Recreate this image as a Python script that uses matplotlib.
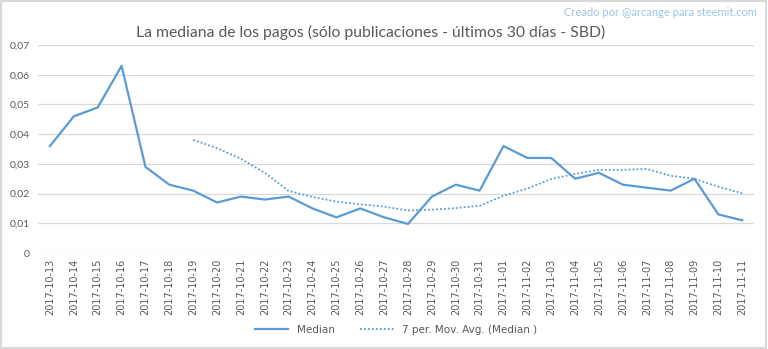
import matplotlib
matplotlib.use("Agg")
import matplotlib.pyplot as plt
from matplotlib.ticker import FuncFormatter

plt.rcParams['font.family'] = ['Lato', 'DejaVu Sans']

dates = ["2017-10-13", "2017-10-14", "2017-10-15", "2017-10-16", "2017-10-17",
         "2017-10-18", "2017-10-19", "2017-10-20", "2017-10-21", "2017-10-22",
         "2017-10-23", "2017-10-24", "2017-10-25", "2017-10-26", "2017-10-27",
         "2017-10-28", "2017-10-29", "2017-10-30", "2017-10-31", "2017-11-01",
         "2017-11-02", "2017-11-03", "2017-11-04", "2017-11-05", "2017-11-06",
         "2017-11-07", "2017-11-08", "2017-11-09", "2017-11-10", "2017-11-11"]

median = [0.036, 0.046, 0.049, 0.063, 0.029, 0.023, 0.021, 0.017, 0.019, 0.018,
          0.019, 0.015, 0.012, 0.015, 0.012, 0.0098, 0.019, 0.023, 0.021, 0.036,
          0.032, 0.032, 0.025, 0.027, 0.023, 0.022, 0.021, 0.025, 0.013, 0.011]

# moving average starts at 2017-10-19
mov_avg = [0.0381, 0.0353, 0.0317, 0.0270, 0.0209, 0.0189, 0.0173, 0.0164,
           0.0156, 0.0143, 0.0146, 0.0151, 0.0159, 0.0193, 0.0217, 0.0249,
           0.0266, 0.0280, 0.0280, 0.0283, 0.0260, 0.0250, 0.0223, 0.0201]

blue = "#5B9BD5"
gray = "#595959"

fig = plt.figure(figsize=(7.68, 3.49), dpi=100)
ax = fig.add_axes([0.0495, 0.275, 0.9325, 0.596])

x = list(range(len(dates)))
ax.plot(x, median, color=blue, lw=1.6, label="Median")
ax.plot(x[6:], mov_avg, color=blue, lw=1.3, ls=(0, (1, 1.2)),
        label="7 per. Mov. Avg. (Median )")

ax.set_xlim(-0.5, len(dates) - 0.5)
ax.set_ylim(0, 0.07)
ax.set_yticks([0, 0.01, 0.02, 0.03, 0.04, 0.05, 0.06, 0.07])
ax.yaxis.set_major_formatter(FuncFormatter(
    lambda v, p: "0" if v == 0 else ("%.2f" % v).replace(".", ",")))
ax.set_xticks(x)
ax.set_xticklabels(dates, rotation=90, fontsize=7, color=gray,
                   family=['Liberation Sans Narrow', 'DejaVu Sans'])
ax.tick_params(axis='y', labelsize=7.5, labelcolor=gray, length=0, pad=6)
ax.tick_params(axis='x', length=0, pad=4)
ax.grid(axis='y', color="#D9D9D9", lw=0.9)
ax.set_axisbelow(True)
for s in ax.spines.values():
    s.set_visible(False)

fig.text(0.483, 0.893, "La mediana de los pagos (sólo publicaciones - últimos 30 días - SBD)",
         ha='center', fontsize=11.3, color=gray)
fig.text(0.985, 0.955, "Creado por @arcange para steemit.com", ha='right',
         fontsize=8, color="#9DC3E6")

ax.legend(loc='center', bbox_to_anchor=(0.5, -0.37), ncol=2, frameon=False,
          labelcolor=gray, handlelength=3.2, columnspacing=2.5,
          prop={'family': ['Liberation Sans Narrow', 'DejaVu Sans'], 'size': 7.5})

fig.patches.append(plt.Rectangle((0.001, 0.002), 0.997, 0.996, transform=fig.transFigure,
                                 fill=False, edgecolor="#D9D9D9", lw=1.5))

fig.savefig("out.png", dpi=100)
